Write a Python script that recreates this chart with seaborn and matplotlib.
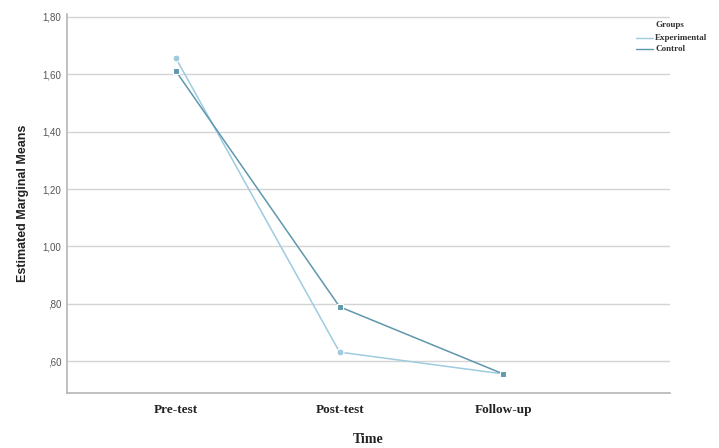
import matplotlib
matplotlib.use("Agg")
import matplotlib.pyplot as plt
import seaborn as sns
import pandas as pd

# Estimated marginal means by group over the three measurement points
time_points = ["Pre-test", "Post-test", "Follow-up"]
groups = ["Experimental", "Control"]
experimental_means = [1.655, 0.632, 0.556]
control_means = [1.610, 0.790, 0.556]
y_ticks = [0.60, 0.80, 1.00, 1.20, 1.40, 1.60, 1.80]
y_tick_labels = [",60", ",80", "1,00", "1,20", "1,40", "1,60", "1,80"]

df = pd.DataFrame({
    "Time": time_points * 2,
    "pos": list(range(len(time_points))) * 2,
    "Mean": experimental_means + control_means,
    "Groups": [groups[0]] * 3 + [groups[1]] * 3,
})

sns.set_theme(style="white")
plt.rcParams["font.family"] = ["Liberation Sans", "DejaVu Sans"]

fig = plt.figure(figsize=(7.19, 4.48), dpi=100)
ax = fig.add_axes([0.093, 0.123, 0.839, 0.846])

palette = {"Experimental": "#9fcbe0", "Control": "#5f97ad"}
sns.lineplot(data=df, x="pos", y="Mean", hue="Groups", style="Groups",
             markers={"Experimental": "o", "Control": "s"}, dashes=False,
             palette=palette, markersize=5, linewidth=1.1, ax=ax,
             markeredgewidth=0.8, legend=False)

ax.set_xlim(-0.667, 3.02)
ax.set_ylim(0.49, 1.81)
ax.set_yticks(y_ticks)
ax.set_yticklabels(y_tick_labels, fontsize=7, color="#555555")
ax.set_xticks(range(len(time_points)))
ax.set_xticklabels(time_points, family="Liberation Serif", fontweight="bold",
                   fontsize=9.5, color="#222222")
ax.tick_params(axis="x", length=0, pad=8)
ax.tick_params(axis="y", length=0, pad=4)
ax.yaxis.grid(True, color="#d4d4d4", linewidth=1.0)
ax.set_axisbelow(True)
for side in ["top", "right"]:
    ax.spines[side].set_visible(False)
for side in ["left", "bottom"]:
    ax.spines[side].set_color("#b5b5b5")
    ax.spines[side].set_linewidth(1.2)

ax.set_xlabel("Time", family="Liberation Serif", fontweight="bold",
              fontsize=10, color="#222222", labelpad=12)
ax.set_ylabel("Estimated Marginal Means", fontweight="bold", fontsize=9,
              color="#222222", labelpad=10)

# Legend outside the plotting area, top right
fig.text(0.911, 0.940, "Groups", family="Liberation Serif", fontweight="bold",
         fontsize=6.5, color="#333333")
for i, g in enumerate(groups):
    yy = 0.915 - i * 0.024
    fig.add_artist(plt.Line2D([0.884, 0.908], [yy, yy], color=palette[g],
                              linewidth=1.0, transform=fig.transFigure))
    fig.text(0.911, yy, g, family="Liberation Serif", fontweight="bold",
             fontsize=6.5, color="#333333", va="center")

fig.savefig("out.png", dpi=100)
